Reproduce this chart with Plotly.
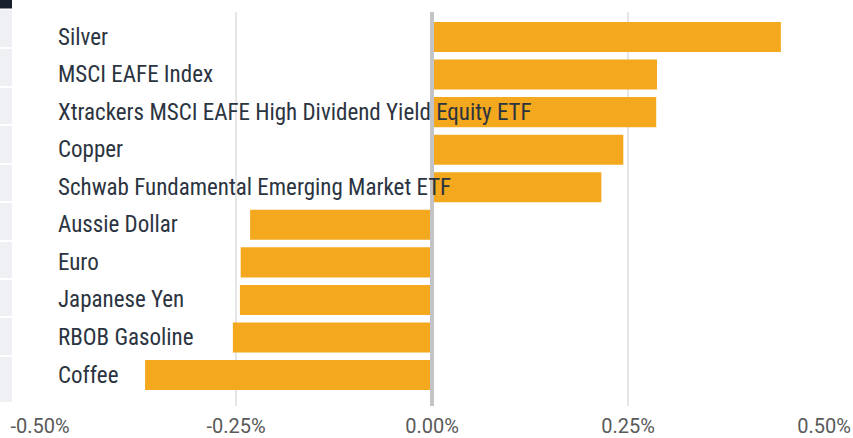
import plotly.graph_objects as go

categories = ["Silver", "MSCI EAFE Index", "Xtrackers MSCI EAFE High Dividend Yield Equity ETF",
              "Copper", "Schwab Fundamental Emerging Market ETF", "Aussie Dollar", "Euro",
              "Japanese Yen", "RBOB Gasoline", "Coffee"]
values = [0.445, 0.287, 0.286, 0.244, 0.216, -0.232, -0.244, -0.245, -0.254, -0.366]
tick_vals = [-0.5, -0.25, 0.0, 0.25, 0.5]
tick_text = ["-0.50%", "-0.25%", "0.00%", "0.25%", "0.50%"]

W, H = 853, 438
L, R, T, B = 40, 29, 12, 32
pw = W - L - R

fig = go.Figure()
fig.add_trace(go.Bar(x=values, y=list(range(len(categories))), orientation="h",
                     marker=dict(color="#F4A81D", line=dict(width=0)), width=0.8,
                     hoverinfo="skip"))

ann = []
for i, c in enumerate(categories):
    ann.append(dict(x=(55.5 - L) / pw, xref="paper", y=i, yref="y", text=c, showarrow=False,
                    xanchor="left", yanchor="middle",
                    font=dict(family="Roboto Condensed, Roboto", size=23, color="#2b3440")))

shapes = [dict(type="line", xref="x", yref="paper", x0=0, x1=0, y0=0, y1=1,
               line=dict(color="#c3c4c8", width=4), layer="above")]

# decorative page strips at the far left edge (outside the plot area)
def px_x(p):
    return (p - L) / pw
def px_y(p):
    return 1 - (p - T) / (H - T - B)

strip_edges = [(10, 47), (49, 86), (88, 124), (126, 163), (165, 201), (203, 240),
               (242, 278), (280, 316), (318, 355), (357, 402)]
for y0, y1 in strip_edges:
    shapes.append(dict(type="rect", xref="paper", yref="paper", x0=px_x(0), x1=px_x(12),
                       y0=px_y(y1), y1=px_y(y0), fillcolor="#eff0f3", line=dict(width=0),
                       layer="below"))
shapes.append(dict(type="rect", xref="paper", yref="paper", x0=px_x(0), x1=px_x(12),
                   y0=px_y(8.5), y1=px_y(0), fillcolor="#17202c", line=dict(width=0),
                   layer="below"))

fig.update_layout(
    width=W, height=H, margin=dict(l=L, r=R, t=T, b=B, autoexpand=False),
    paper_bgcolor="white", plot_bgcolor="white", showlegend=False,
    annotations=ann, shapes=shapes, bargap=0.2,
    xaxis=dict(range=[-0.5, 0.5], tickvals=tick_vals, ticktext=tick_text,
               showgrid=True, gridcolor="#e6e6e6", gridwidth=1.5, zeroline=False,
               showline=False, ticks="", automargin=False, ticklabelstandoff=6,
               tickfont=dict(family="Roboto", size=20, color="#5a5a5a"),
               fixedrange=True),
    yaxis=dict(range=[9.824, -0.666], showticklabels=False, showgrid=False, zeroline=False,
               showline=False, ticks="", automargin=False, fixedrange=True),
)
fig.write_html("out.html", config={"displayModeBar": False, "staticPlot": True},
               post_script="document.body.style.margin='0px';")
